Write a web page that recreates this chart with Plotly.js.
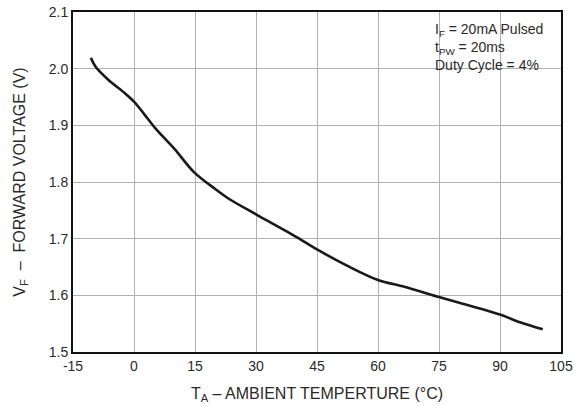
<!DOCTYPE html>
<html>
<head>
<meta charset="utf-8">
<script src="https://cdn.plot.ly/plotly-3.0.1.min.js"></script>
<style>html,body{margin:0;padding:0;background:#fff;}#chart{width:577px;height:406px;}</style>
</head>
<body>
<div id="chart"></div>
<script>
// Ambient temperature (°C) and forward voltage (V)
const temperatureC = [-10.6, -9.4, -6.4, -2.3, 0, 2.6, 5.1, 10, 14.8, 19.9, 23.4, 30, 40.2, 45, 52.5, 60, 66.5, 75, 80.4, 90, 95.1, 100.5];
const forwardV     = [2.019, 2.003, 1.981, 1.957, 1.942, 1.919, 1.896, 1.858, 1.817, 1.788, 1.770, 1.743, 1.702, 1.681, 1.652, 1.627, 1.615, 1.597, 1.586, 1.566, 1.552, 1.540];
const xTicks = [-15, 0, 15, 30, 45, 60, 75, 90, 105];
const yTicks = [1.5, 1.6, 1.7, 1.8, 1.9, 2.0, 2.1];
const yTickLabels = ["1.5", "1.6", "1.7", "1.8", "1.9", "2.0", "2.1"];
const noteText = "I<sub>F</sub> = 20mA Pulsed<br>t<sub>PW</sub> = 20ms<br>Duty Cycle = 4%";

const font = "Liberation Sans, Arial, sans-serif";
const trace = {
  x: temperatureC, y: forwardV, type: "scatter", mode: "lines",
  line: {color: "#1a1a1a", width: 2.6, shape: "spline", smoothing: 0.9},
  hoverinfo: "skip"
};
const layout = {
  width: 577, height: 406,
  margin: {l: 73, r: 16, t: 12, b: 54},
  paper_bgcolor: "#fff", plot_bgcolor: "#fff",
  showlegend: false,
  font: {family: font, size: 14, color: "#2a2a2a"},
  xaxis: {
    range: [-15, 105], tickvals: xTicks, ticktext: xTicks.map(String),
    showgrid: true, gridcolor: "#b0b0b0", gridwidth: 1, zeroline: false,
    showline: true, linecolor: "#111", linewidth: 2, mirror: true,
    ticks: "", ticklen: 0,
    tickfont: {family: font, size: 14, color: "#2a2a2a"},
    title: {text: "T<sub>A</sub> – AMBIENT TEMPERTURE (°C)", font: {family: font, size: 16, color: "#2a2a2a"}, standoff: 15}
  },
  yaxis: {
    range: [1.5, 2.1], tickvals: yTicks, ticktext: yTickLabels,
    showgrid: true, gridcolor: "#b0b0b0", gridwidth: 1, zeroline: false,
    showline: true, linecolor: "#111", linewidth: 2, mirror: true,
    ticks: "", ticklen: 0,
    tickfont: {family: font, size: 14, color: "#2a2a2a"},
    title: {text: "V<sub>F</sub>  –  FORWARD VOLTAGE (V)", font: {family: font, size: 16, color: "#2a2a2a"}, standoff: 19}
  },
  shapes: [{
    type: "rect", xref: "paper", yref: "paper",
    x0: 0.723, x1: 0.997, y0: 0.82, y1: 0.997,
    fillcolor: "#fff", line: {width: 0}, layer: "between"
  }],
  annotations: [{
    xref: "paper", yref: "paper", x: 0.738, y: 0.98,
    xanchor: "left", yanchor: "top", align: "left", showarrow: false,
    text: noteText, font: {family: font, size: 14, color: "#2a2a2a"}
  }]
};
Plotly.newPlot("chart", [trace], layout, {displayModeBar: false, staticPlot: true});
</script>
</body>
</html>
